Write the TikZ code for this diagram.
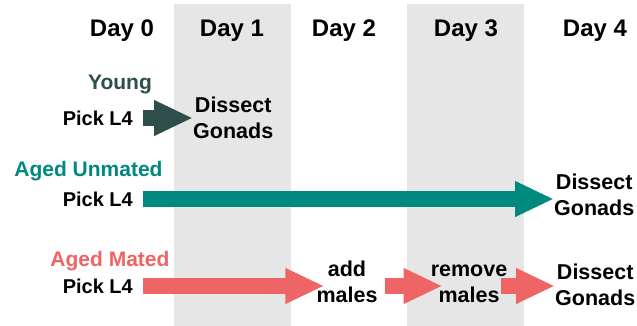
\documentclass[tikz,border=0pt]{standalone}
\usepackage{fontspec}
\setmainfont{Liberation Sans}
\usetikzlibrary{arrows.meta}
\definecolor{bandgray}{HTML}{E6E6E6}
\definecolor{darkteal}{HTML}{2E4E4B}
\definecolor{tealc}{HTML}{00897F}
\definecolor{pinkc}{HTML}{EF6464}
\begin{document}
\begin{tikzpicture}[x=1pt,y=-1pt,
  band/.style={fill=bandgray,draw=none},
  daylbl/.style={font=\fontsize{24}{28}\selectfont\bfseries,inner sep=0pt,anchor=base},
  grouplbl/.style={font=\fontsize{21}{26}\selectfont\bfseries,inner sep=0pt,anchor=base},
  picklbl/.style={font=\fontsize{20}{24}\selectfont\bfseries,inner sep=0pt,anchor=east},
  steptxt/.style={font=\fontsize{21.5}{26}\selectfont\bfseries,inner sep=0pt,align=center},
  blockarrow/.style={line width=16pt,-{Triangle[length=39pt,width=33pt]}},
]
\useasboundingbox (0,0) rectangle (637,326);
\fill[white] (0,0) rectangle (637,326);
% gray bands for day 1 and day 3
\path[band] (174,4) rectangle (291,326);
\path[band] (407,4) rectangle (524,326);
% day headers
\node[daylbl] (d0) at (122,37) {Day 0};
\node[daylbl] (d1) at (232,37) {Day 1};
\node[daylbl] (d2) at (344,37) {Day 2};
\node[daylbl] (d3) at (466,37) {Day 3};
\node[daylbl] (d4) at (595,37) {Day 4};
% Young
\node[grouplbl,text=darkteal] (young) at (120,90) {Young};
\node[picklbl] (p1) at (133,118) {Pick L4};
\node[steptxt,anchor=west] (g1) at (193,118) {Dissect\\Gonads};
\draw[blockarrow,darkteal] ([xshift=10pt]p1.east) -- (g1.west);
% Aged Unmated
\node[grouplbl,text=tealc] (au) at (88.5,176) {Aged Unmated};
\node[picklbl] (p2) at (133,199) {Pick L4};
\node[steptxt,anchor=west] (g2) at (554,194.5) {Dissect\\Gonads};
\draw[blockarrow,tealc] ([xshift=10pt]p2.east) -- (g2.west |- p2.east);
% Aged Mated
\node[grouplbl,text=pinkc] (am) at (110,266) {Aged Mated};
\node[picklbl] (p3) at (133,286) {Pick L4};
\node[steptxt] (add) at (347,281.5) {add\\males};
\node[steptxt] (rem) at (469,283.5) {remove\\males};
\node[steptxt,anchor=west] (g3) at (555,284.5) {Dissect\\Gonads};
\draw[blockarrow,pinkc] ([xshift=10pt]p3.east) -- ([xshift=8pt]add.west |- p3.east);
\draw[blockarrow,pinkc] ([xshift=7pt]add.east |- p3.east) -- ([xshift=12pt]rem.west |- p3.east);
\draw[blockarrow,pinkc] ([xshift=-6pt]rem.east |- p3.east) -- (g3.west |- p3.east);
\end{tikzpicture}
\end{document}
